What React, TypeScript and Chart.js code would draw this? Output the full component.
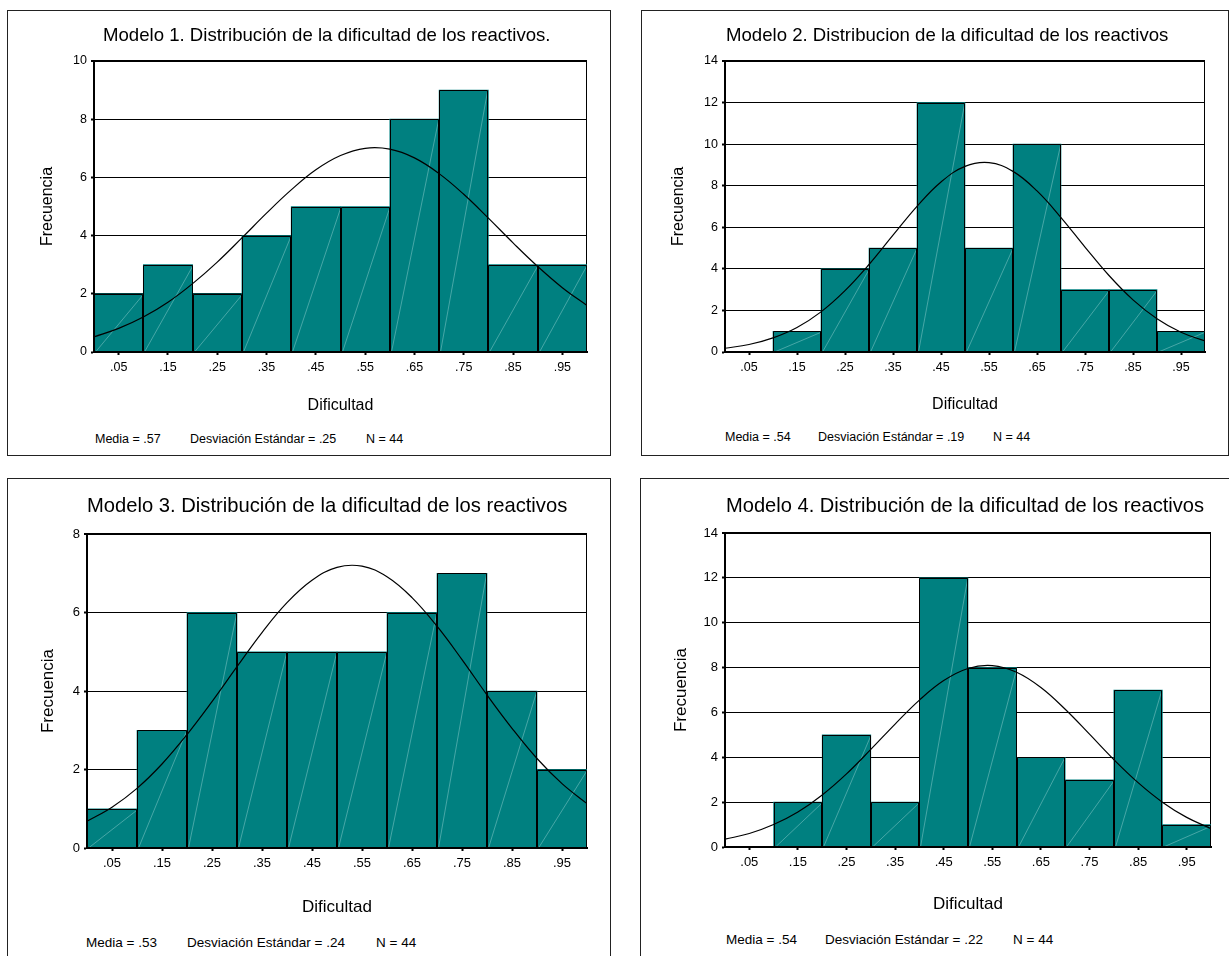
import React, { useEffect, useRef } from 'react';
import { Chart, registerables } from 'chart.js';

Chart.register(...registerables);

const FONT = '"Liberation Sans", Arial, Helvetica, sans-serif';
Chart.defaults.font.family = FONT;
Chart.defaults.color = '#000';

// ---------- data ----------
const binCenters = [0.05, 0.15, 0.25, 0.35, 0.45, 0.55, 0.65, 0.75, 0.85, 0.95];
const xTickLabels = ['.05', '.15', '.25', '.35', '.45', '.55', '.65', '.75', '.85', '.95'];
const curveX = [0, 0.05, 0.1, 0.15, 0.2, 0.25, 0.3, 0.35, 0.4, 0.45, 0.5, 0.55, 0.6, 0.65, 0.7, 0.75, 0.8, 0.85, 0.9, 0.95, 1.0];

const freqModelo1 = [2, 3, 2, 4, 5, 5, 8, 9, 3, 3];
const curveModelo1 = [0.52, 0.81, 1.2, 1.71, 2.35, 3.09, 3.92, 4.77, 5.57, 6.26, 6.75, 7.0, 6.97, 6.67, 6.13, 5.42, 4.6, 3.75, 2.94, 2.21, 1.6];

const freqModelo2 = [0, 1, 4, 5, 12, 5, 10, 3, 3, 1];
const curveModelo2 = [0.18, 0.36, 0.68, 1.18, 1.93, 2.95, 4.21, 5.62, 7.01, 8.18, 8.93, 9.11, 8.69, 7.75, 6.47, 5.05, 3.68, 2.51, 1.6, 0.95, 0.53];

const freqModelo3 = [1, 3, 6, 5, 5, 5, 6, 7, 4, 2];
const curveModelo3 = [0.68, 1.04, 1.52, 2.14, 2.89, 3.73, 4.62, 5.49, 6.25, 6.82, 7.15, 7.18, 6.91, 6.38, 5.65, 4.8, 3.9, 3.05, 2.28, 1.64, 1.13];

const freqModelo4 = [0, 2, 5, 2, 12, 8, 4, 3, 7, 1];
const curveModelo4 = [0.35, 0.6, 1.0, 1.56, 2.32, 3.26, 4.35, 5.48, 6.55, 7.42, 7.96, 8.09, 7.79, 7.11, 6.14, 5.03, 3.9, 2.87, 2.0, 1.32, 0.82];

const freqs = [freqModelo1, freqModelo2, freqModelo3, freqModelo4];
const curves = [curveModelo1, curveModelo2, curveModelo3, curveModelo4];
const yMaxes = [10, 14, 8, 14];

const titles = [
  'Modelo 1. Distribución de la dificultad de los reactivos.',
  'Modelo 2. Distribucion de la dificultad de los reactivos',
  'Modelo 3. Distribución de la dificultad de los reactivos',
  'Modelo 4. Distribución de la dificultad de los reactivos',
];
const mediaLabels = ['Media = .57', 'Media = .54', 'Media = .53', 'Media = .54'];
const sdLabels = ['Desviación Estándar = .25', 'Desviación Estándar = .19', 'Desviación Estándar = .24', 'Desviación Estándar = .22'];
const nLabels = ['N = 44', 'N = 44', 'N = 44', 'N = 44'];
const xAxisTitle = 'Dificultad';
const yAxisTitle = 'Frecuencia';

// ---------- layout (page pixels) ----------
type Layout = {
  box: [number, number, number, number]; // left, top, right, bottom lines
  plot: [number, number, number, number]; // left, top, right, bottom
  titleX: number; titleBase: number; titleFs: number;
  axisFs: number; tickFs: number;
  yTitleX: number; xTitleY: number;
  footFs: number; footBase: number; footX: [number, number, number];
};

const layouts: Layout[] = [
  { box: [7, 10, 610, 455], plot: [94, 61, 587, 352], titleX: 103, titleBase: 41.7, titleFs: 18.6, axisFs: 16, tickFs: 12.5,
    yTitleX: 48, xTitleY: 406, footFs: 12.5, footBase: 443.3, footX: [95, 190, 366] },
  { box: [641, 10, 1228, 455], plot: [725, 61, 1205, 352], titleX: 726, titleBase: 41.7, titleFs: 18.6, axisFs: 16, tickFs: 12.5,
    yTitleX: 679, xTitleY: 405, footFs: 12.5, footBase: 442, footX: [725, 818, 993] },
  { box: [7, 478, 610, 990], plot: [87, 534, 587, 848], titleX: 87, titleBase: 512, titleFs: 20.2, axisFs: 17, tickFs: 13,
    yTitleX: 48, xTitleY: 907, footFs: 13.5, footBase: 947, footX: [86, 187, 376] },
  { box: [640, 478, 1245, 990], plot: [725, 533, 1211, 847], titleX: 726, titleBase: 511.7, titleFs: 20.1, axisFs: 17, tickFs: 13,
    yTitleX: 681, xTitleY: 904, footFs: 13.5, footBase: 944, footX: [726, 825, 1013] },
];

const barDecor = {
  id: 'barDecor',
  beforeDatasetsDraw(chart: any) {
    const { ctx, chartArea } = chart;
    ctx.save();
    ctx.strokeStyle = '#000';
    ctx.lineWidth = 1;
    const x = Math.round(chartArea.right) - 0.5;
    ctx.beginPath();
    ctx.moveTo(x, chartArea.top);
    ctx.lineTo(x, chartArea.bottom);
    ctx.stroke();
    ctx.restore();
  },
  afterDatasetDraw(chart: any, args: any) {
    const meta = args.meta;
    if (meta.type !== 'bar') return;
    const ctx = chart.ctx;
    ctx.save();
    meta.data.forEach((el: any) => {
      const { x, y, base, width } = el.getProps(['x', 'y', 'base', 'width'], true);
      if (Math.abs(base - y) < 0.5) return;
      const left = Math.round(x - width / 2) + 0.5;
      const right = Math.round(x + width / 2) - 0.5;
      const top = Math.round(y) + 0.5;
      const bottom = Math.round(base);
      ctx.strokeStyle = 'rgba(200,235,235,0.45)';
      ctx.lineWidth = 0.8;
      ctx.beginPath();
      ctx.moveTo(left + 1, bottom);
      ctx.lineTo(right, top + 1);
      ctx.stroke();
      ctx.strokeStyle = '#000';
      ctx.lineWidth = 1;
      ctx.beginPath();
      ctx.moveTo(left, bottom);
      ctx.lineTo(left, top);
      ctx.lineTo(right, top);
      ctx.lineTo(right, bottom);
      ctx.stroke();
    });
    ctx.restore();
  },
};

function Panel({ idx }: { idx: number }) {
  const ref = useRef<HTMLCanvasElement>(null);
  const L = layouts[idx];
  const [bl, bt, br, bb] = L.box;
  const [pl, pt, pr, pb] = L.plot;
  const cx = bl + 1;
  const cy = bt + 1;
  const cw = br - bl - 1;
  const ch = Math.round(L.xTitleY + 16 - cy);

  useEffect(() => {
    const yMax = yMaxes[idx];
    const axisLh = L.axisFs * 1.2;
    const padLeft = 2;
    const chart = new Chart(ref.current as HTMLCanvasElement, {
      type: 'bar',
      data: {
        datasets: [
          {
            type: 'line',
            data: curveX.map((x, i) => ({ x, y: curves[idx][i] })),
            borderColor: '#000',
            borderWidth: 1.2,
            pointRadius: 0,
            tension: 0.4,
            fill: false,
            order: 0,
          } as any,
          {
            type: 'bar',
            data: binCenters.map((x, i) => ({ x, y: freqs[idx][i] })),
            backgroundColor: '#008080',
            borderWidth: 0,
            barPercentage: 1,
            categoryPercentage: 1,
            order: 1,
          } as any,
        ],
      },
      options: {
        animation: false,
        responsive: false,
        maintainAspectRatio: false,
        events: [],
        layout: { padding: { left: padLeft, top: pt - cy, right: cx + cw - pr, bottom: 0 } },
        plugins: { legend: { display: false }, tooltip: { enabled: false }, title: { display: false } },
        scales: {
          x: {
            type: 'linear',
            min: 0,
            max: 1,
            offset: false,
            afterFit: (s: any) => { s.height = ch - (pb - cy); },
            afterBuildTicks: (s: any) => { s.ticks = binCenters.map((v) => ({ value: v })); },
            ticks: {
              autoSkip: false,
              maxRotation: 0,
              padding: 5,
              font: { size: L.tickFs },
              color: '#000',
              callback: (_v: any, i: number) => xTickLabels[i],
            },
            grid: { offset: false, drawOnChartArea: false, drawTicks: true, tickLength: 3, tickWidth: 2, tickColor: '#000', color: '#000' },
            border: { display: true, color: '#000', width: 2, z: 1 },
            title: {
              display: true,
              text: xAxisTitle,
              font: { size: L.axisFs, lineHeight: 1.2 },
              color: '#000',
              padding: { top: 0, bottom: ch - (L.xTitleY - cy) - axisLh / 2 },
            },
          },
          y: {
            type: 'linear',
            min: 0,
            max: yMax,
            afterFit: (s: any) => { s.width = pl - cx - padLeft; },
            ticks: { stepSize: 2, padding: 4, font: { size: L.tickFs }, color: '#000' },
            grid: {
              color: '#000',
              lineWidth: (c: any) => (c.tick && c.tick.value === yMax ? 2 : 1),
              drawTicks: true,
              tickLength: 3,
              tickWidth: 2,
              tickColor: '#000',
            },
            border: { display: true, color: '#000', width: 2, z: 1 },
            title: {
              display: true,
              text: yAxisTitle,
              font: { size: L.axisFs, lineHeight: 1.2 },
              color: '#000',
              padding: { top: L.yTitleX - cx - padLeft - axisLh / 2, bottom: 0 },
            },
          },
        },
      } as any,
      plugins: [barDecor],
    });
    return () => chart.destroy();
  }, []);

  const textStyle = (x: number, base: number, fs: number): React.CSSProperties => ({
    position: 'absolute',
    left: x,
    top: base - 0.8465 * fs,
    fontSize: fs,
    lineHeight: `${fs}px`,
    fontFamily: FONT,
    color: '#000',
    whiteSpace: 'nowrap',
    margin: 0,
  });

  return (
    <>
      <div
        style={{
          position: 'absolute',
          left: bl,
          top: bt,
          width: br - bl + 1,
          height: bb - bt + 1,
          border: '1px solid #222',
          boxSizing: 'border-box',
        }}
      />
      <canvas
        ref={ref}
        width={cw}
        height={ch}
        style={{ position: 'absolute', left: cx, top: cy, width: cw, height: ch }}
      />
      <div style={textStyle(L.titleX, L.titleBase, L.titleFs)}>{titles[idx]}</div>
      <div style={textStyle(L.footX[0], L.footBase, L.footFs)}>{mediaLabels[idx]}</div>
      <div style={textStyle(L.footX[1], L.footBase, L.footFs)}>{sdLabels[idx]}</div>
      <div style={textStyle(L.footX[2], L.footBase, L.footFs)}>{nLabels[idx]}</div>
    </>
  );
}

export default function App() {
  return (
    <div
      style={{
        position: 'absolute',
        left: 0,
        top: 0,
        width: 1229,
        height: 956,
        overflow: 'hidden',
        background: '#fff',
      }}
    >
      {[0, 1, 2, 3].map((i) => (
        <Panel key={i} idx={i} />
      ))}
    </div>
  );
}
